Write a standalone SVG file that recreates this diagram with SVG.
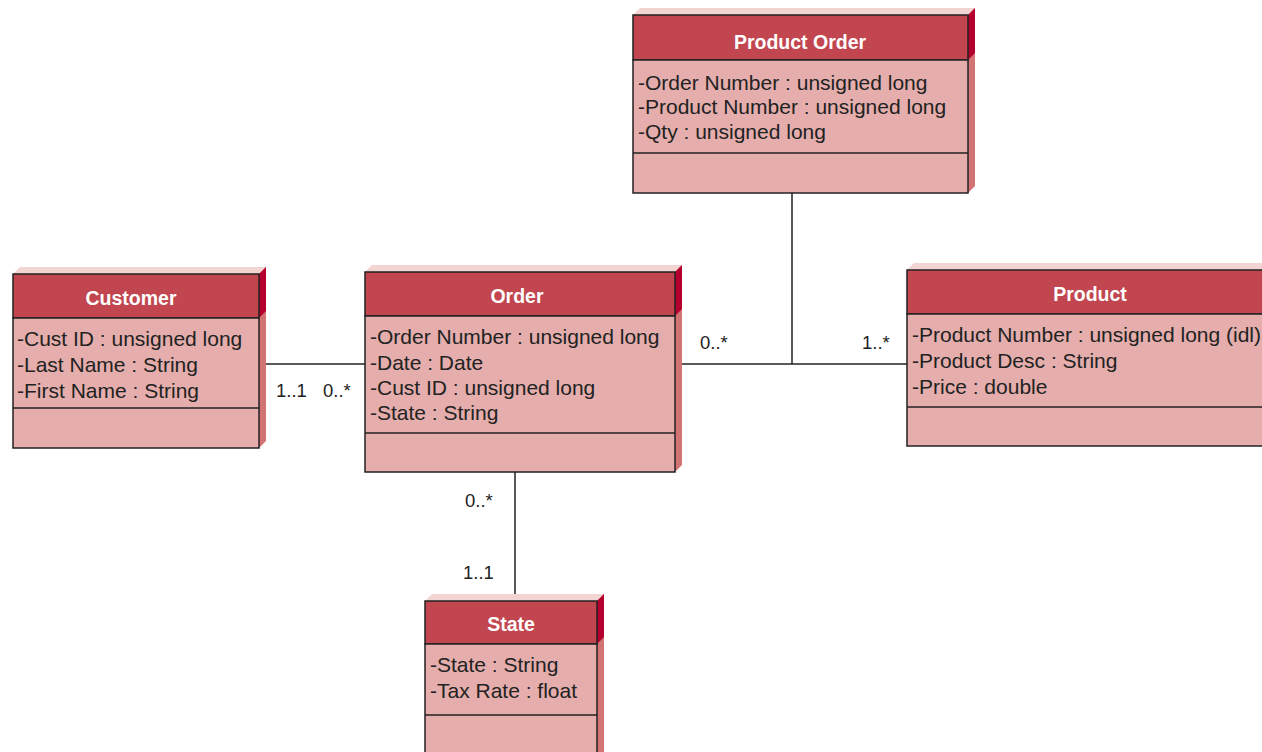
<svg xmlns="http://www.w3.org/2000/svg" width="1262" height="752" viewBox="0 0 1262 752">
<style>
.top{fill:#f2d4d2}
.sideh{fill:#b5002f}
.side{fill:#d27473}
.hdr{fill:#c1464f;stroke:#222;stroke-width:1.5}
.body{fill:#e5aeac;stroke:#222;stroke-width:1.5}
.title{font-family:"Liberation Sans",Arial,sans-serif;font-weight:bold;font-size:19.5px;fill:#fff;text-anchor:middle}
.attr{font-family:"Liberation Sans",Arial,sans-serif;font-size:21px;fill:#222}
.lbl{font-family:"Liberation Sans",Arial,sans-serif;font-size:18.5px;fill:#222}
.conn{stroke:#222;stroke-width:1.5;fill:none}
</style>
<rect width="1262" height="752" fill="#fff"/>
<g id="connectors">
<line class="conn" x1="259" y1="364" x2="365" y2="364"/>
<line class="conn" x1="675" y1="364" x2="907" y2="364"/>
<line class="conn" x1="792" y1="193" x2="792" y2="364"/>
<line class="conn" x1="515" y1="472" x2="515" y2="601"/>
<text class="lbl" x="276" y="397">1..1</text>
<text class="lbl" x="323" y="397">0..*</text>
<text class="lbl" x="700" y="349">0..*</text>
<text class="lbl" x="862" y="349">1..*</text>
<text class="lbl" x="465" y="507">0..*</text>
<text class="lbl" x="463" y="579">1..1</text>
</g>
<g id="product-order">
<polygon class="top" points="633,15 640,8 975,8 968,15"/>
<polygon class="side" points="968,15 975,8 975,186 968,193"/>
<polygon class="sideh" points="968,15 975,8 975,53 968,60"/>
<rect class="hdr" x="633" y="15" width="335" height="45"/>
<rect class="body" x="633" y="60" width="335" height="133"/>
<line class="conn" x1="633" y1="153" x2="968" y2="153"/>
<text class="title" x="800" y="49">Product Order</text>
<text class="attr" x="638" y="90">-Order Number : unsigned long</text>
<text class="attr" x="638" y="114">-Product Number : unsigned long</text>
<text class="attr" x="638" y="139">-Qty : unsigned long</text>
</g>
<g id="customer">
<polygon class="top" points="13,274 20,267 266,267 259,274"/>
<polygon class="side" points="259,274 266,267 266,441 259,448"/>
<polygon class="sideh" points="259,274 266,267 266,311 259,318"/>
<rect class="hdr" x="13" y="274" width="246" height="44"/>
<rect class="body" x="13" y="318" width="246" height="130"/>
<line class="conn" x1="13" y1="408" x2="259" y2="408"/>
<text class="title" x="131" y="305">Customer</text>
<text class="attr" x="17" y="346">-Cust ID : unsigned long</text>
<text class="attr" x="17" y="372">-Last Name : String</text>
<text class="attr" x="17" y="398">-First Name : String</text>
</g>
<g id="order">
<polygon class="top" points="365,272 372,265 682,265 675,272"/>
<polygon class="side" points="675,272 682,265 682,465 675,472"/>
<polygon class="sideh" points="675,272 682,265 682,309 675,316"/>
<rect class="hdr" x="365" y="272" width="310" height="44"/>
<rect class="body" x="365" y="316" width="310" height="156"/>
<line class="conn" x1="365" y1="433" x2="675" y2="433"/>
<text class="title" x="517" y="303">Order</text>
<text class="attr" x="370" y="344">-Order Number : unsigned long</text>
<text class="attr" x="370" y="370">-Date : Date</text>
<text class="attr" x="370" y="395">-Cust ID : unsigned long</text>
<text class="attr" x="370" y="420">-State : String</text>
</g>
<g id="product">
<polygon class="top" points="907,270 914,263 1270,263 1270,270"/>
<rect class="hdr" x="907" y="270" width="370" height="44"/>
<rect class="body" x="907" y="314" width="370" height="132"/>
<line class="conn" x1="907" y1="407" x2="1270" y2="407"/>
<text class="title" x="1090" y="301">Product</text>
<text class="attr" x="912" y="342">-Product Number : unsigned long (idl)</text>
<text class="attr" x="912" y="368">-Product Desc : String</text>
<text class="attr" x="912" y="394">-Price : double</text>
</g>
<g id="state">
<polygon class="top" points="425,601 432,594 604,594 597,601"/>
<polygon class="side" points="597,601 604,594 604,760 597,760"/>
<polygon class="sideh" points="597,601 604,594 604,637 597,644"/>
<rect class="hdr" x="425" y="601" width="172" height="43"/>
<rect class="body" x="425" y="644" width="172" height="120"/>
<line class="conn" x1="425" y1="715" x2="597" y2="715"/>
<text class="title" x="511" y="631">State</text>
<text class="attr" x="430" y="672">-State : String</text>
<text class="attr" x="430" y="698">-Tax Rate : float</text>
</g>
</svg>
